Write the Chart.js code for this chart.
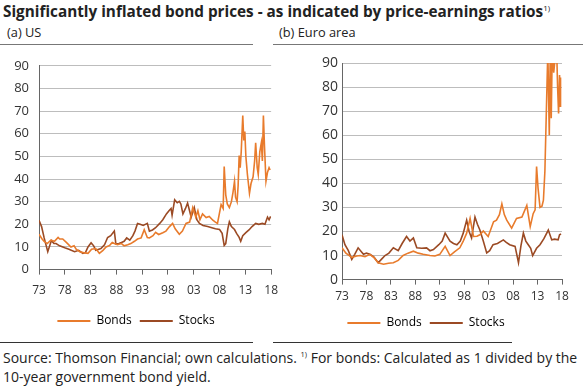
<!DOCTYPE html>
<html>
<head>
<meta charset="utf-8">
<script src="https://cdn.jsdelivr.net/npm/chart.js@4"></script>
<style>
  body { margin: 0; background: #fff; font-family: "Open Sans", "Liberation Sans", sans-serif; color: #222; }
  #page { position: relative; width: 587px; height: 386px; overflow: hidden; }
  .abs { position: absolute; white-space: nowrap; }
  .rule { position: absolute; height: 1px; background: #777; }
  .rule.dark { background: #333; }
</style>
</head>
<body>
<div id="page">
  <div class="abs" style="left:3px; top:1px; font-size:15.3px; font-weight:bold;">Significantly inflated bond prices - as indicated by price-earnings ratios<sup style="font-size:8px; font-weight:normal;">1)</sup></div>
  <div class="abs" style="left:7px; top:23px; font-size:12.8px;">(a) US</div>
  <div class="abs" style="left:279px; top:23px; font-size:12.8px;">(b) Euro area</div>
  <div class="rule" style="left:0; top:44px; width:253px;"></div>
  <div class="rule" style="left:273px; top:44px; width:310px;"></div>

  <div class="abs" style="left:0; top:48px; width:287px; height:289px;"><canvas id="usChart"></canvas></div>
  <div class="abs" style="left:290px; top:48px; width:297px; height:291px;"><canvas id="euChart"></canvas></div>

  <div class="rule dark" style="left:0; top:342px; width:253px;"></div>
  <div class="rule dark" style="left:273px; top:342px; width:239px;"></div>
  <div class="abs" style="left:3px; top:345px; font-size:14px; line-height:19px; color:#222;">Source: Thomson Financial; own calculations. <sup style="font-size:7.5px;">1)</sup> For bonds: Calculated as 1 divided by the<br>10-year government bond yield.</div>
</div>
<script>
// ---- data ----
var xTickYears = [1973, 1978, 1983, 1988, 1993, 1998, 2003, 2008, 2013, 2018];
var yTicks = [0, 10, 20, 30, 40, 50, 60, 70, 80, 90];

// (a) US
var usBondYears = [1973.0,1973.6,1974.0,1974.6,1975.3,1976.0,1976.7,1977.0,1977.6,1978.3,1979.2,1979.8,1980.2,1980.9,1981.6,1982.5,1983.2,1984.0,1984.7,1985.4,1986.0,1986.7,1987.2,1987.6,1988.2,1989.0,1989.5,1990.2,1990.8,1991.5,1992.1,1992.8,1993.4,1994.0,1994.4,1995.1,1995.6,1996.2,1997.0,1997.6,1998.3,1998.9,1999.4,2000.2,2000.8,2001.5,2002.2,2002.8,2003.4,2003.8,2004.2,2004.7,2005.4,2006.0,2006.7,2007.2,2007.6,2008.3,2008.7,2008.9,2009.2,2009.5,2009.9,2010.3,2010.6,2010.9,2011.1,2011.4,2011.6,2011.8,2012.0,2012.2,2012.5,2012.7,2012.9,2013.1,2013.4,2013.8,2014.1,2014.5,2014.8,2015.0,2015.3,2015.5,2015.8,2016.1,2016.3,2016.5,2016.7,2017.0,2017.3,2017.6,2017.8];
var usBonds     = [15.6,13.5,12.5,11.5,13,12.5,14.2,13.5,13.5,12,10,10.5,9,7.9,7.5,7.2,9,9.3,7.2,8.5,10,10.7,12,11.5,11,11.5,10.5,11,11.5,12.5,13.5,14,17.6,14.2,14,15,16.5,15.5,16.3,17,19,20.4,18,15.6,17,20.4,21,27.4,23.2,26,22,24.6,23,23.5,21.8,21,20.4,28.7,27,45.5,33,29,27.4,30,34,39,32,30,37,50.4,45,52,68,57,61,50,42,33.7,38,41,48,56,45,42,52,56,48,68,55,39,43,45,44];

var usStockYears = [1973.0,1973.5,1974.0,1974.7,1975.4,1975.9,1976.3,1977.0,1978.0,1978.8,1979.9,1980.7,1981.5,1982.0,1982.5,1983.1,1983.6,1984.0,1984.6,1985.0,1985.7,1986.3,1986.9,1987.6,1987.9,1988.5,1989.0,1989.5,1990.0,1990.6,1991.2,1991.6,1992.1,1992.6,1993.2,1994.0,1994.4,1995.0,1995.6,1996.4,1997.0,1997.7,1998.2,1998.6,1998.8,1999.3,1999.8,2000.2,2000.5,2000.9,2001.4,2001.8,2002.5,2003.1,2003.6,2004.1,2004.8,2005.7,2006.5,2007.2,2008.0,2008.5,2008.9,2009.2,2009.6,2009.9,2010.3,2010.9,2011.3,2011.8,2012.1,2012.5,2013.1,2013.7,2014.3,2015.0,2015.6,2016.3,2016.8,2017.3,2017.6,2017.9];
var usStocks     = [21.8,19,14,7.9,12.8,11.5,11.5,10.5,9.6,9,7.9,8.5,7.2,7.5,10,11.8,10.5,8.5,9,9.3,11,14.2,15,17,11.4,11.5,12,12.5,14,13,15,17,20.4,20,19.5,20.4,17,17.5,18.5,20.4,22,24.6,26,27,24,30.8,29.5,30.1,29,24.6,27,29.4,23.2,27.4,22,20.4,19.5,19,18.5,18,17.7,16,10.7,11.5,18,21.1,19,17.7,16,14.2,12.5,15,16.3,17.5,19,20.4,20,20.4,20,23.2,22,23.5];

// (b) Euro area
var euBondYears = [1973.0,1973.8,1975.0,1976.0,1976.7,1977.7,1978.7,1979.6,1980.4,1981.5,1982.5,1983.5,1984.5,1985.5,1986.5,1987.6,1988.6,1989.6,1991.0,1992.0,1993.0,1994.1,1995.1,1996.0,1997.1,1997.8,1998.5,1999.2,1999.9,2000.6,2001.2,2001.9,2002.9,2004.0,2004.6,2005.2,2005.7,2006.2,2006.7,2007.7,2008.7,2009.8,2010.8,2011.5,2012.1,2012.5,2012.8,2013.1,2013.5,2013.9,2014.2,2014.5,2014.8,2015.1,2015.4,2015.6,2015.8,2016.0,2016.3,2016.6,2016.9,2017.1,2017.3,2017.5,2017.6,2017.7];
var euBonds     = [13.2,11,9.2,9.8,10,9.5,10.5,9,7,6.4,6.8,7,8,10,11,11.8,11,10.5,10,9.8,10.5,13.8,10,11.5,13.2,16,19.3,25.4,17.9,18,18.6,20.2,17.9,24,24.7,27,31.5,27,24.7,21.4,25.4,26,30.8,22,27.4,29,47,38,30,30.5,33,45,70,95,60,95,67,95,86,92,96,80,69,85,72,84];

var euStockYears = [1973.0,1973.6,1974.3,1975.0,1975.6,1976.3,1977.0,1977.4,1978.0,1978.7,1979.5,1980.4,1981.1,1981.8,1982.6,1983.5,1984.5,1985.3,1986.2,1986.9,1987.6,1988.3,1989.3,1990.3,1991.0,1991.7,1992.8,1993.5,1994.1,1995.1,1995.8,1996.5,1997.2,1997.8,1998.5,1999.0,1999.5,2000.2,2000.7,2001.2,2001.9,2002.6,2003.2,2003.9,2004.8,2006.0,2006.6,2007.3,2008.4,2009.1,2009.6,2010.1,2010.6,2011.1,2011.6,2012.0,2012.8,2013.5,2014.3,2015.2,2015.9,2016.5,2017.2,2017.5,2017.8];
var euStocks     = [18.6,14.5,12,8.4,10.5,13.2,11.5,10.5,11,10.5,9.5,7,8.5,10,11,13.2,12,15,17.9,16,17.3,13.2,13,13.2,12,12.5,14.5,16,19.3,16,15,14.5,16,19.3,24.7,20,17.3,26,23,20.6,16,11.1,12,14.5,15,16.5,15.5,14.5,13.8,7,14,19.3,16,14.5,13,10,13,14.5,17,20.6,16.5,16.8,16.5,18.6,19];

var BOND_COLOR = '#e87b2c';
var STOCK_COLOR = '#9b4a24';
var FONT = '"Open Sans", "Liberation Sans", sans-serif';

function toPoints(xs, ys) {
    return xs.map(function(x, i) { return { x: x, y: ys[i] }; });
}

function makeChart(id, bondYears, bonds, stockYears, stocks, opts) {
    return new Chart(document.getElementById(id), {
        type: 'line',
        data: {
            datasets: [
                { label: 'Bonds', data: toPoints(bondYears, bonds), borderColor: BOND_COLOR, backgroundColor: BOND_COLOR, borderWidth: 1.6, pointRadius: 0, tension: 0 },
                { label: 'Stocks', data: toPoints(stockYears, stocks), borderColor: STOCK_COLOR, backgroundColor: STOCK_COLOR, borderWidth: 1.6, pointRadius: 0, tension: 0 }
            ]
        },
        options: {
            responsive: true,
            maintainAspectRatio: false,
            animation: false,
            layout: { padding: { left: 0, right: opts.padRight, top: 15, bottom: 0 } },
            plugins: {
                tooltip: { enabled: false },
                legend: {
                    position: 'bottom',
                    labels: {
                        boxWidth: 33,
                        boxHeight: 2,
                        padding: 8,
                        font: { family: FONT, size: 12 },
                        color: '#333',
                        generateLabels: function(chart) {
                            return chart.data.datasets.map(function(ds, i) {
                                return { text: ds.label, fillStyle: ds.borderColor, strokeStyle: ds.borderColor, lineWidth: 0, datasetIndex: i };
                            });
                        }
                    }
                }
            },
            scales: {
                x: {
                    type: 'linear',
                    min: 1973,
                    max: 2018,
                    afterBuildTicks: function(axis) {
                        axis.ticks = xTickYears.map(function(v) { return { value: v }; });
                    },
                    ticks: {
                        autoSkip: false,
                        maxRotation: 0,
                        padding: opts.xPad,
                        color: '#333',
                        font: { family: FONT, size: 12 },
                        callback: function(v) { return String(v % 100).padStart(2, '0'); }
                    },
                    grid: { drawOnChartArea: false, drawTicks: true, tickLength: 5, color: '#666' },
                    border: { display: true, color: '#666' }
                },
                y: {
                    min: 0,
                    max: 90,
                    afterBuildTicks: function(axis) {
                        axis.ticks = yTicks.map(function(v) { return { value: v }; });
                    },
                    afterFit: function(axis) { axis.width = opts.yWidth; },
                    ticks: {
                        padding: opts.yPad,
                        color: '#333',
                        font: { family: FONT, size: opts.ySize }
                    },
                    grid: { color: '#bdbdbd', drawTicks: false },
                    border: { display: true, color: '#666' }
                }
            }
        }
    });
}

makeChart('usChart', usBondYears, usBonds, usStockYears, usStocks, { padRight: 15, yWidth: 39, yPad: 10, ySize: 13, xPad: 9 });
makeChart('euChart', euBondYears, euBonds, euStockYears, euStocks, { padRight: 25, yWidth: 52, yPad: 4, ySize: 14, xPad: 5 });
</script>
</body>
</html>
